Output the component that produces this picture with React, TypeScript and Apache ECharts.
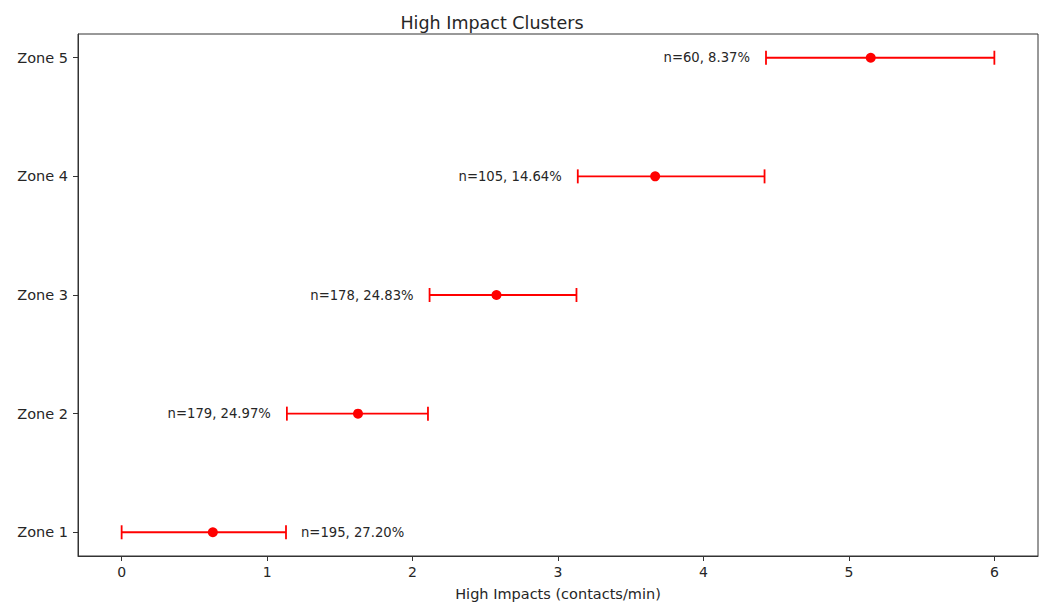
import React, { useEffect, useRef } from "react";
import * as echarts from "echarts";

const zones = ["Zone 1", "Zone 2", "Zone 3", "Zone 4", "Zone 5"];
const centers = [0.627, 1.625, 2.577, 3.668, 5.15];
const lowers = [0.0, 1.136, 2.117, 3.136, 4.43];
const uppers = [1.13, 2.106, 3.127, 4.42, 6.0];
const counts = [195, 179, 178, 105, 60];
const percents = ["27.20%", "24.97%", "24.83%", "14.64%", "8.37%"];
const xTicks = [0, 1, 2, 3, 4, 5, 6];

const FONT = "DejaVu Sans";
const RED = "#ff0000";
const TEXT = "#262626";

export default function App() {
  const ref = useRef<HTMLDivElement>(null);
  useEffect(() => {
    const chart = echarts.init(ref.current!, null, { renderer: "svg" });
    const errData = zones.map((_, i) => [lowers[i], uppers[i], i]);
    const option: any = {
      animation: false,
      backgroundColor: "#ffffff",
      textStyle: { fontFamily: FONT },
      title: {
        text: "High Impact Clusters",
        left: 487,
        top: 9,
        textAlign: "center",
        textStyle: { fontFamily: FONT, fontSize: 17.5, fontWeight: "normal", color: TEXT },
      },
      grid: {
        left: 78,
        right: 8,
        top: 34,
        bottom: 45,
        show: true,
        borderColor: "#333",
        borderWidth: 1,
        backgroundColor: "transparent",
      },
      xAxis: {
        type: "value",
        min: -0.3,
        max: 6.3,
        name: "High Impacts (contacts/min)",
        nameLocation: "middle",
        nameGap: 30,
        nameTextStyle: { fontFamily: FONT, fontSize: 14.5, color: TEXT },
        splitLine: { show: false },
        axisLine: { show: true, onZero: false, lineStyle: { color: "#333", width: 1 } },
        axisTick: { show: true, customValues: xTicks, length: 5, lineStyle: { color: "#333" } },
        axisLabel: {
          customValues: xTicks,
          fontFamily: FONT,
          fontSize: 14,
          color: TEXT,
          margin: 9,
          formatter: (v: number) => String(v),
        },
      },
      yAxis: {
        type: "value",
        min: -0.2,
        max: 4.2,
        splitLine: { show: false },
        axisLine: { show: true, onZero: false, lineStyle: { color: "#333", width: 1 } },
        axisTick: { show: true, customValues: [0, 1, 2, 3, 4], length: 5, lineStyle: { color: "#333" } },
        axisLabel: {
          customValues: [0, 1, 2, 3, 4],
          fontFamily: FONT,
          fontSize: 14.5,
          color: TEXT,
          margin: 10,
          formatter: (v: number) => zones[Math.round(v)] ?? "",
        },
      },
      series: [
        {
          type: "custom",
          data: errData,
          encode: { x: [0, 1], y: 2 },
          renderItem: (params: any, api: any) => {
            const lo = api.value(0);
            const hi = api.value(1);
            const y = api.value(2);
            const i = params.dataIndex;
            const p1 = api.coord([lo, y]);
            const p2 = api.coord([hi, y]);
            const cap = 7;
            const style = { stroke: RED, lineWidth: 1.8 };
            const right = lo <= 0.5;
            const label = `n=${counts[i]}, ${percents[i]}`;
            return {
              type: "group",
              children: [
                { type: "line", shape: { x1: p1[0], y1: p1[1], x2: p2[0], y2: p2[1] }, style },
                { type: "line", shape: { x1: p1[0], y1: p1[1] - cap, x2: p1[0], y2: p1[1] + cap }, style },
                { type: "line", shape: { x1: p2[0], y1: p2[1] - cap, x2: p2[0], y2: p2[1] + cap }, style },
                {
                  type: "text",
                  x: right ? p2[0] + 15 : p1[0] - 16,
                  y: p1[1],
                  style: {
                    text: label,
                    fill: TEXT,
                    fontFamily: FONT,
                    fontSize: 13.2,
                    align: right ? "left" : "right",
                    verticalAlign: "middle",
                  },
                },
              ],
            };
          },
          z: 2,
        },
        {
          type: "scatter",
          data: zones.map((_, i) => [centers[i], i]),
          symbol: "circle",
          symbolSize: 10,
          itemStyle: { color: RED, opacity: 1 },
          z: 3,
        },
      ],
    };
    chart.setOption(option);
    return () => chart.dispose();
  }, []);
  return (
    <div
      ref={ref}
      style={{ position: "fixed", left: 0, top: 0, width: 1046, height: 606, background: "#fff" }}
    />
  );
}
